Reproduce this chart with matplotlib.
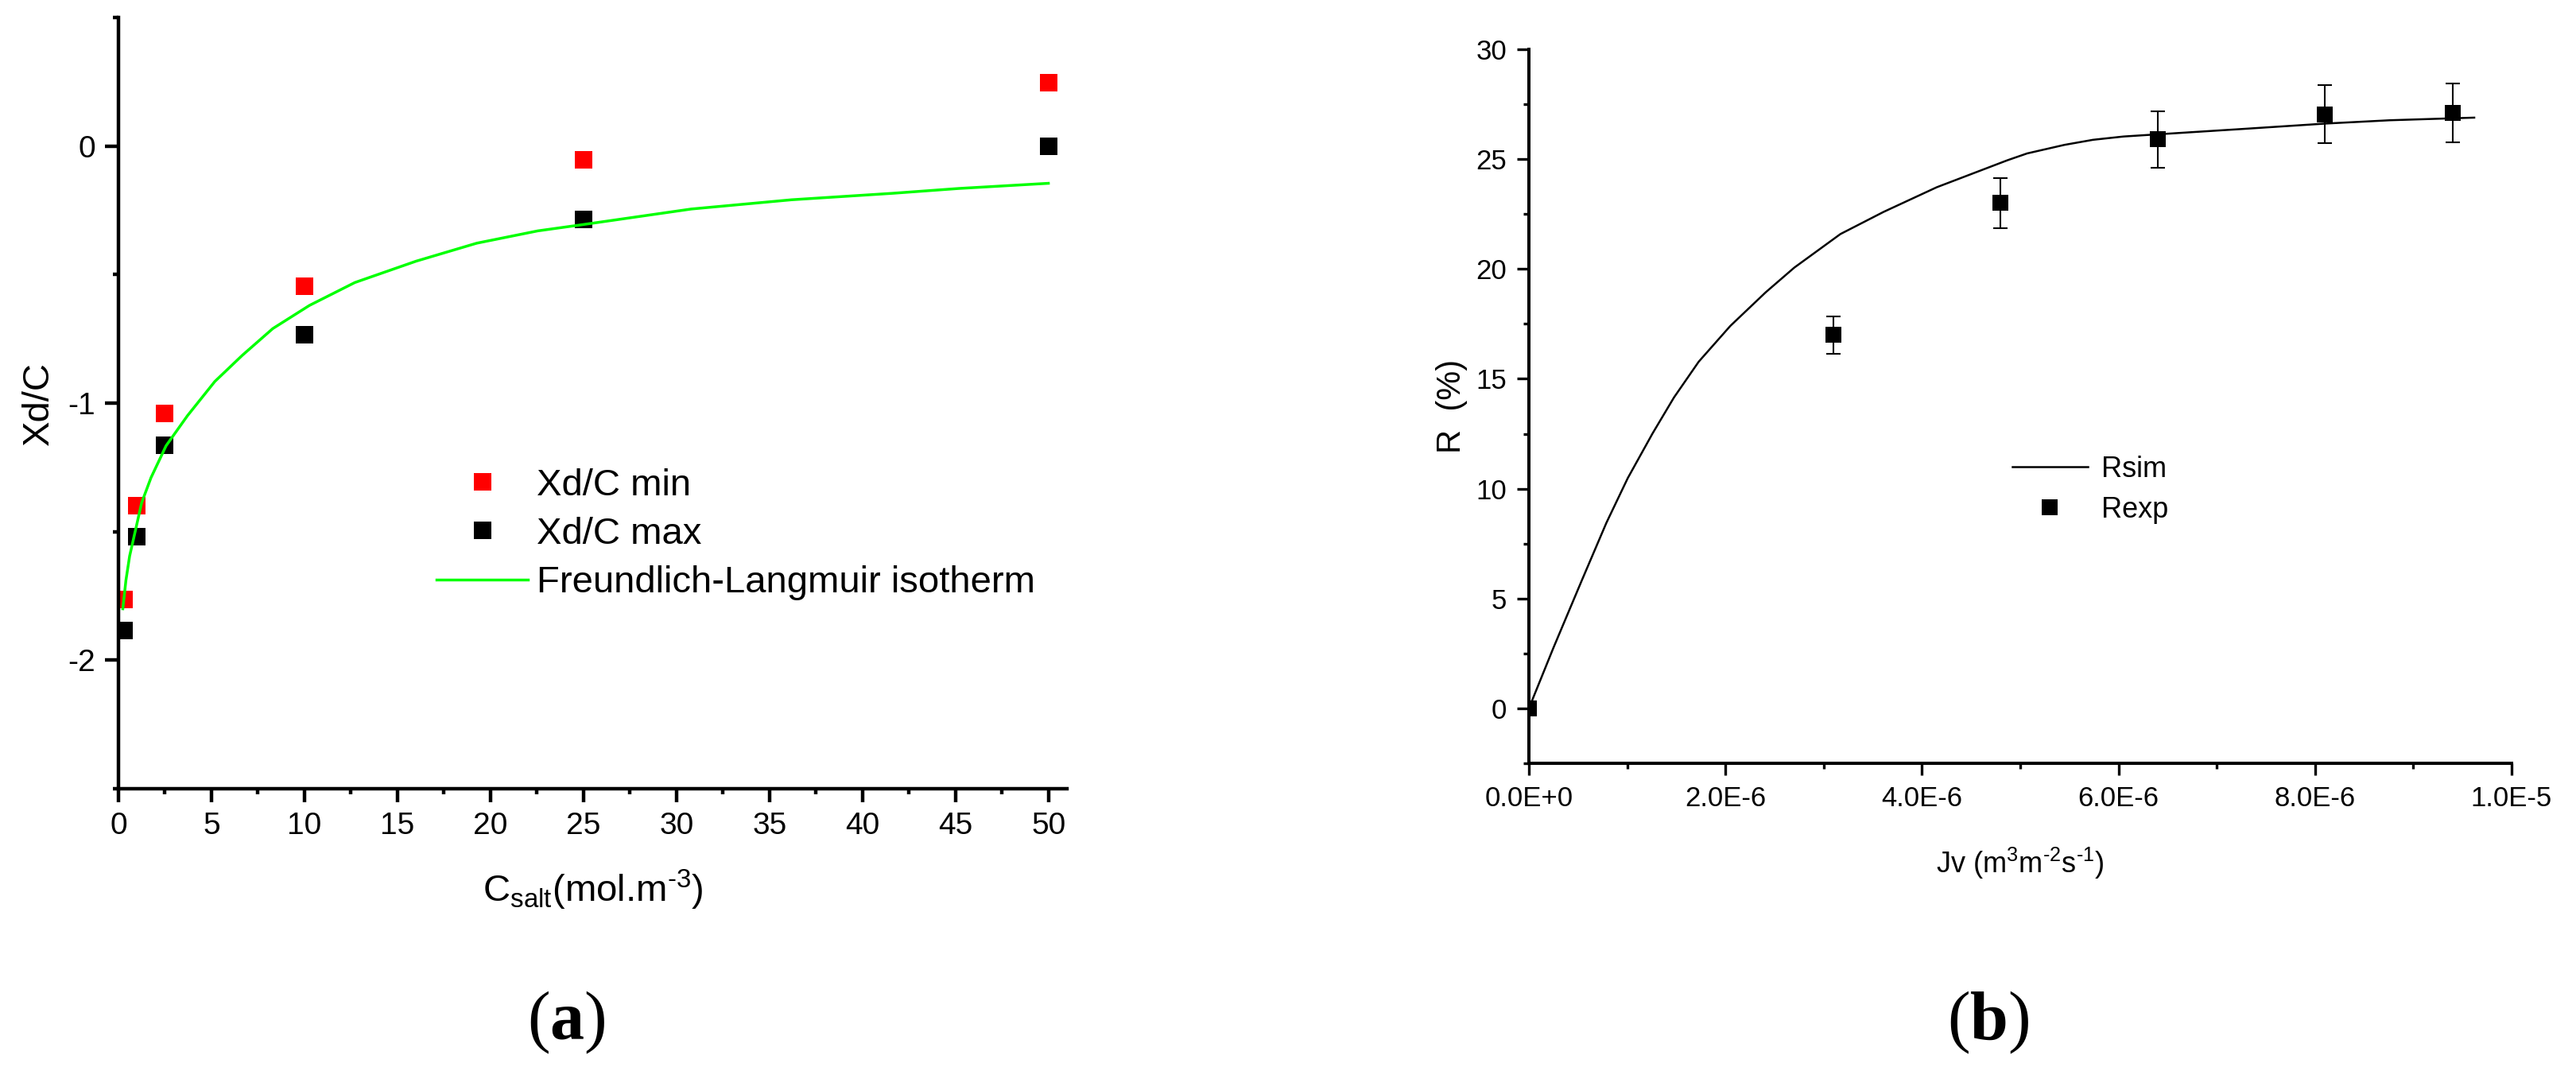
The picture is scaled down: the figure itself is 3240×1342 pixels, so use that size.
"""Adsorption isotherm (a) and rejection vs. flux (b) panels."""

import matplotlib
matplotlib.use("Agg")
import matplotlib.pyplot as plt
from matplotlib.ticker import MultipleLocator, FixedLocator, FixedFormatter

plt.rcParams["font.family"] = ["Liberation Sans", "DejaVu Sans"]
plt.rcParams["axes.unicode_minus"] = False
plt.rcParams["mathtext.fontset"] = "custom"
plt.rcParams["mathtext.rm"] = "Liberation Serif"
plt.rcParams["mathtext.bf"] = "Liberation Serif:bold"

W, H = 3241, 1342
HY = "\u2010"  # plain hyphen, mathtext would turn "-" into a minus sign

# panel (a)
c_salt = [0.3, 1.0, 2.5, 10.0, 25.0, 50.0]
xdc_min = [-1.765, -1.40, -1.04, -0.545, -0.055, 0.245]
xdc_max = [-1.885, -1.52, -1.165, -0.735, -0.285, 0.0]
iso_x = [0.235, 0.4, 0.6, 1.25, 1.75, 2.56, 3.71, 5.18, 6.66, 8.30, 10.27, 12.71,
         16.0, 19.26, 22.55, 25.03, 30.8, 36.2, 41.6, 45.2, 50.0]
iso_y = [-1.80, -1.69, -1.595, -1.387, -1.29, -1.166, -1.049, -0.916, -0.814, -0.710,
         -0.620, -0.531, -0.448, -0.378, -0.330, -0.305, -0.245, -0.209, -0.184,
         -0.165, -0.145]

# panel (b)
jv_exp = [0.0, 3.1e-6, 4.8e-6, 6.4e-6, 8.1e-6, 9.4e-6]
r_exp = [0.0, 17.0, 23.0, 25.9, 27.05, 27.1]
r_err = [0.0, 0.85, 1.15, 1.28, 1.33, 1.35]
jv_sim = [0.0, 0.248e-6, 0.536e-6, 0.789e-6, 1.006e-6, 1.259e-6, 1.476e-6, 1.728e-6,
          2.05e-6, 2.41e-6, 2.70e-6, 3.17e-6, 3.61e-6, 4.15e-6, 4.87e-6, 5.07e-6,
          5.45e-6, 5.74e-6, 6.05e-6, 6.40e-6, 7.25e-6, 8.11e-6, 8.76e-6, 9.62e-6]
r_sim = [0.0, 2.74, 5.80, 8.45, 10.48, 12.52, 14.15, 15.78, 17.41, 18.94, 20.06, 21.59,
         22.60, 23.72, 24.95, 25.26, 25.65, 25.88, 26.03, 26.13, 26.37, 26.62, 26.77,
         26.89]
jv_ticks = [0.0, 2e-6, 4e-6, 6e-6, 8e-6, 1e-5]
jv_tick_labels = ["0.0E+0", "2.0E-6", "4.0E-6", "6.0E-6", "8.0E-6", "1.0E-5"]


def style_axes(ax, spine_lw, major_len, minor_len, tick_lw, label_size, pad):
    for side in ("top", "right"):
        ax.spines[side].set_visible(False)
    for side in ("left", "bottom"):
        ax.spines[side].set_linewidth(spine_lw)
    ax.tick_params(which="major", direction="out", length=major_len, width=tick_lw,
                   labelsize=label_size, pad=pad)
    ax.tick_params(which="minor", direction="out", length=minor_len, width=tick_lw)


def plot_isotherm(fig):
    ax = fig.add_axes([149 / W, 1 - 992 / H, (1342 - 149) / W, (992 - 22) / H])
    ax.plot(c_salt, xdc_min, "s", color="#ff0000", markersize=15.8, mew=0,
            label="Xd/C min")
    ax.plot(c_salt, xdc_max, "s", color="black", markersize=15.8, mew=0,
            label="Xd/C max")
    ax.plot(iso_x, iso_y, color="#00ff00", lw=2.5, label="Freundlich-Langmuir isotherm")
    ax.set_xlim(0, 51)
    ax.set_ylim(-2.5, 0.5)
    ax.xaxis.set_major_locator(MultipleLocator(5))
    ax.xaxis.set_minor_locator(MultipleLocator(2.5))
    ax.yaxis.set_major_locator(FixedLocator([-2, -1, 0]))
    ax.yaxis.set_minor_locator(FixedLocator([-2.5, -1.5, -0.5, 0.5]))
    style_axes(ax, 3.2, 12, 5, 3.2, 28, 9)

    ax.set_ylabel("Xd/C", fontsize=34)
    ax.yaxis.set_label_coords(-0.0654, 0.5)
    ax.set_xlabel(r"C$_{\mathregular{salt}}$(mol.m$^{\mathregular{%s3}}$)" % HY,
                  fontsize=34)
    ax.xaxis.set_label_coords(0.5, -0.103)

    ax.legend(loc="center left", bbox_to_anchor=(549 / W, 1 - 672 / H),
              bbox_transform=fig.transFigure, frameon=False, fontsize=34,
              borderpad=0, borderaxespad=0, handlelength=2.44, handletextpad=0.23,
              labelspacing=0.37)


def plot_rejection(fig):
    ax = fig.add_axes([1923 / W, 1 - 960 / H, 1236 / W, (960 - 62) / H])
    ax.plot(jv_sim, r_sim, color="black", lw=1.8, label="Rsim")
    ax.errorbar(jv_exp, r_exp, yerr=r_err, fmt="none", ecolor="black",
                elinewidth=1.5, capsize=6.7, capthick=1.5)
    ax.plot(jv_exp, r_exp, "s", color="black", markersize=14, mew=0, label="Rexp")
    ax.set_xlim(0, 1e-5)
    ax.set_ylim(-2.5, 30)
    ax.xaxis.set_major_locator(FixedLocator(jv_ticks))
    ax.xaxis.set_major_formatter(FixedFormatter(jv_tick_labels))
    ax.xaxis.set_minor_locator(MultipleLocator(1e-6))
    ax.yaxis.set_major_locator(MultipleLocator(5))
    ax.yaxis.set_minor_locator(FixedLocator([-2.5, 2.5, 7.5, 12.5, 17.5, 22.5, 27.5]))
    style_axes(ax, 2.9, 11, 5, 2.4, 25, 9)

    ax.set_ylabel("R  (%)", fontsize=30)
    ax.yaxis.set_label_coords(-0.0623, 0.5)
    ax.set_xlabel(r"Jv (m$^{\mathregular{3}}$m$^{\mathregular{%s2}}$s$^{\mathregular{%s1}}$)"
                  % (HY, HY), fontsize=26)
    ax.xaxis.set_label_coords(0.5, -0.1158)

    ax.legend(loc="center left", bbox_to_anchor=(2531 / W, 1 - 616 / H),
              bbox_transform=fig.transFigure, frameon=False, fontsize=26,
              borderpad=0, borderaxespad=0, handlelength=2.63, handletextpad=0.47,
              labelspacing=0.45)


def main():
    fig = plt.figure(figsize=(W / 100, H / 100), dpi=100)
    plot_isotherm(fig)
    plot_rejection(fig)
    for x, tag in ((712, "a"), (2501, "b")):
        fig.text(x / W, 1 - 1286 / H, r"($\mathbf{%s}$)" % tag, fontsize=62,
                 family="Liberation Serif", ha="center", va="center")
    fig.savefig("out.png", dpi=100)


if __name__ == "__main__":
    main()
